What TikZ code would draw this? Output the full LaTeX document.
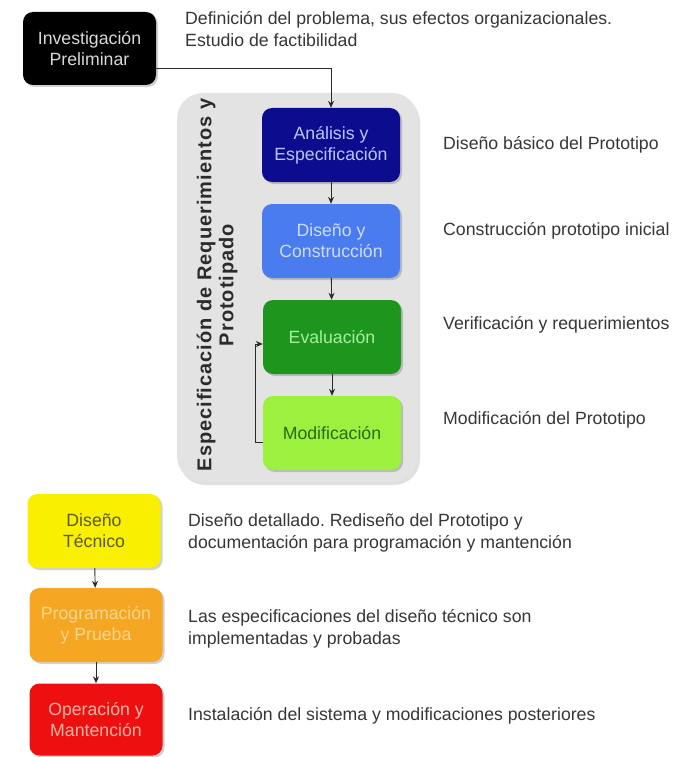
\documentclass[tikz,border=0pt]{standalone}
\usepackage{fontspec}
\setmainfont{Liberation Sans}
\newfontfamily\paneltitlefont{Liberation Sans}[LetterSpace=5]
\usetikzlibrary{arrows.meta,shadows}
\frenchspacing

\definecolor{txtgrey}{HTML}{363636}
\definecolor{linegrey}{HTML}{2A2A2A}
\definecolor{panelgrey}{HTML}{E3E3E3}
\definecolor{navy}{HTML}{0C0C8E}
\definecolor{navytext}{HTML}{B4C8FF}
\definecolor{skyblue}{HTML}{4A7CF0}
\definecolor{skytext}{HTML}{CCDCFF}
\definecolor{darkgreen}{HTML}{1E961E}
\definecolor{darkgreentext}{HTML}{A4F0A0}
\definecolor{lime}{HTML}{9CF03E}
\definecolor{limetext}{HTML}{2C6A12}
\definecolor{yellowbox}{HTML}{F8F000}
\definecolor{yellowtext}{HTML}{5A5A22}
\definecolor{orangebox}{HTML}{F5A623}
\definecolor{orangetext}{HTML}{FCD68A}
\definecolor{redbox}{HTML}{EE1010}
\definecolor{redtext}{HTML}{FFB4A4}

\begin{document}
\begin{tikzpicture}[x=1pt,y=-1pt,
  stage/.style={rounded corners=10pt, minimum width=138pt, minimum height=74pt,
    align=center, inner sep=0pt, font=\fontsize{17.7}{21}\selectfont,
    drop shadow={shadow xshift=2pt, shadow yshift=-2pt, opacity=0.18, fill=black}},
  note/.style={anchor=west, align=left, inner sep=0pt, text=txtgrey,
    font=\fontsize{17.7}{22}\selectfont},
  arr/.style={draw=linegrey, line width=0.9pt, -{Stealth[length=7pt,width=6pt]}}]

\useasboundingbox (0,0) rectangle (674,757);

% grey panel holding the prototyping loop
\node[fill=panelgrey, rounded corners=26pt, minimum width=241pt, minimum height=389pt,
  inner sep=0pt, drop shadow={shadow xshift=2pt, shadow yshift=-3pt, opacity=0.12, fill=black}]
  (panel) at (297.5,287.5) {};
\node[rotate=90, align=center, text=txtgrey!80!black,
  font=\paneltitlefont\bfseries\fontsize{20}{22}\selectfont] (ptitle) at (217,285)
  {Especificación de Requerimientos y\\Prototipado};

% stage boxes
\node[stage, fill=black, text=white!85!black, minimum width=133pt, minimum height=73pt]
  (inv) at (89.5,48.5) {Investigación\\Preliminar};
\node[stage, fill=navy, text=navytext] (ana) at (331,145) {Análisis y\\Especificación};
\node[stage, fill=skyblue, text=skytext] (dis) at (331,241) {Diseño y\\Construcción};
\node[stage, fill=darkgreen, text=darkgreentext] (eva) at (332,337) {Evaluación};
\node[stage, fill=lime, text=limetext] (mod) at (332,433) {Modificación};
\node[stage, fill=yellowbox, text=yellowtext, minimum width=133pt] (tec) at (94,531) {Diseño\\Técnico};
\node[stage, fill=orangebox, text=orangetext, minimum width=133pt] (pro) at (96,625) {Programación\\y Prueba};
\node[stage, fill=redbox, text=redtext, minimum width=133pt, minimum height=72pt] (ope) at (96,719.5) {Operación y\\Mantención};

% descriptions
\node[note] (tinv) at (185,29) {Definición del problema, sus efectos organizacionales.\\Estudio de factibilidad};
\node[note] (tana) at (443,145) {Diseño básico del Prototipo};
\node[note] (tdis) at (443,231) {Construcción prototipo inicial};
\node[note] (teva) at (443,325) {Verificación y requerimientos};
\node[note] (tmod) at (443,420) {Modificación del Prototipo};
\node[note] (ttec) at (188,533) {Diseño detallado. Rediseño del Prototipo y\\documentación para programación y mantención};
\node[note] (tpro) at (188,629) {Las especificaciones del diseño técnico son\\implementadas y probadas};
\node[note] (tope) at (188,716) {Instalación del sistema y modificaciones posteriores};

% connectors
\draw[arr] ([yshift=-20pt]inv.east) -| (ana.north);
\draw[arr] (ana) -- (dis);
\draw[arr] (dis) -- (eva);
\draw[arr] (eva) -- (mod);
\draw[arr] ([yshift=-9pt]mod.west) -- ++(-7,0) |- ([yshift=-7pt]eva.west);
\draw[arr] (tec) -- (pro);
\draw[arr] (pro) -- (ope);
\end{tikzpicture}
\end{document}
